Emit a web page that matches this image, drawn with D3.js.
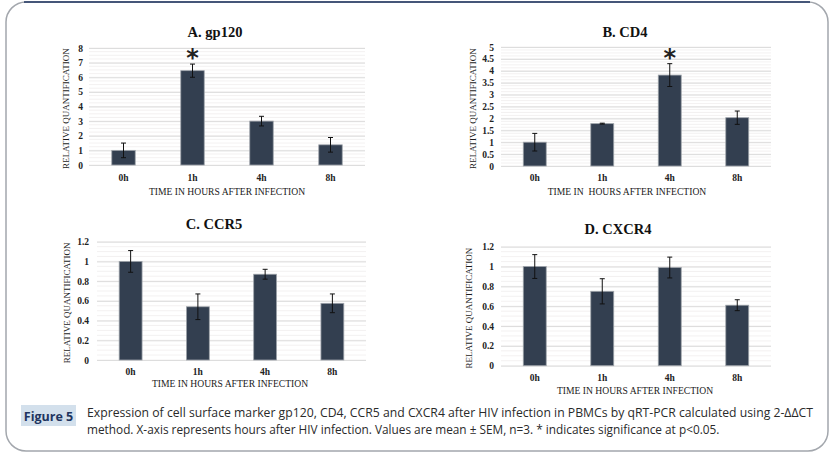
<!DOCTYPE html>
<html>
<head>
<meta charset="utf-8">
<script src="https://cdn.jsdelivr.net/npm/d3@7"></script>
<style>
  body{margin:0;background:#fff;}
  svg{display:block;}
</style>
</head>
<body>
<script>
// values
var hours=["0h","1h","4h","8h"]

var gp120Mean=[1.0,6.45,3.0,1.38]
var gp120Sem=[0.5,0.45,0.33,0.5]
var gp120Star=[false,true,false,false]
var gp120Ticks=[0,1,2,3,4,5,6,7,8]

var cd4Mean=[1.0,1.78,3.82,2.03]
var cd4Sem=[0.37,0.02,0.48,0.28]
var cd4Star=[false,false,true,false]
var cd4Ticks=[0,0.5,1,1.5,2,2.5,3,3.5,4,4.5,5]

var ccr5Mean=[1.0,0.54,0.87,0.575]
var ccr5Sem=[0.11,0.13,0.05,0.095]
var ccr5Star=[false,false,false,false]
var ccr5Ticks=[0,0.2,0.4,0.6,0.8,1,1.2]

var cxcr4Mean=[1.0,0.75,0.99,0.61]
var cxcr4Sem=[0.12,0.127,0.105,0.055]
var cxcr4Star=[false,false,false,false]
var cxcr4Ticks=[0,0.2,0.4,0.6,0.8,1,1.2]

var yTitle="RELATIVE QUANTIFICATION"
var caption1="Expression of cell surface marker gp120, CD4, CCR5 and CXCR4 after HIV infection in PBMCs by qRT-PCR calculated using 2-\u0394\u0394CT"
var caption2="method. X-axis represents hours after HIV infection. Values are mean \u00b1 SEM, n=3. * indicates significance at p<0.05."

var panels=[
  {title:"A. gp120",mean:gp120Mean,sem:gp120Sem,star:gp120Star,ticks:gp120Ticks,xTitle:"TIME IN HOURS AFTER INFECTION",
   x0:89,x1:365,yTop:48,yBot:165,tickX:83,titleX:215,titleY:37,xLabY:181,xTitX:227,xTitY:195,yTitX:66},
  {title:"B. CD4",mean:cd4Mean,sem:cd4Sem,star:cd4Star,ticks:cd4Ticks,xTitle:"TIME IN  HOURS AFTER INFECTION",
   x0:501,x1:771,yTop:47,yBot:166,tickX:494,titleX:625,titleY:37,xLabY:181,xTitX:627,xTitY:195,yTitX:473},
  {title:"C. CCR5",mean:ccr5Mean,sem:ccr5Sem,star:ccr5Star,ticks:ccr5Ticks,xTitle:"TIME IN HOURS AFTER INFECTION",
   x0:97,x1:366,yTop:241.7,yBot:360,tickX:89,titleX:214,titleY:229,xLabY:375,xTitX:230,xTitY:387,yTitX:67},
  {title:"D. CXCR4",mean:cxcr4Mean,sem:cxcr4Sem,star:cxcr4Star,ticks:cxcr4Ticks,xTitle:"TIME IN HOURS AFTER INFECTION",
   x0:501,x1:771,yTop:246.7,yBot:365.7,tickX:494,titleX:618,titleY:234,xLabY:381,xTitX:635,xTitY:394,yTitX:469}
]

var W=833,H=454
var serif="'Liberation Serif','Times New Roman',serif"

var svg=d3.select("body").append("svg")
  .attr("width",W)
  .attr("height",H)

// frame
svg.append("rect")
  .attr("x",6).attr("y",2)
  .attr("width",822).attr("height",449)
  .attr("rx",20).attr("ry",20)
  .attr("fill","none")
  .attr("stroke","#a3a7ad")
  .attr("stroke-width",1.5)
svg.append("line")
  .attr("x1",24).attr("x2",810)
  .attr("y1",2).attr("y2",2)
  .attr("stroke","#1f3560")
  .attr("stroke-width",1.6)

var drawPanel=function(p){
  var g=svg.append("g")
  var ticks=p.ticks
  var ymax=ticks[ticks.length-1]
  var step=ticks[1]-ticks[0]

  var xScale=d3.scaleBand()
    .domain(hours)
    .range([p.x0,p.x1])
    .paddingInner(0.66)
    .paddingOuter(0.33)

  var yScale=d3.scaleLinear()
    .domain([0,ymax])
    .range([p.yBot,p.yTop])

  // minor grid
  var minor=d3.range(0,ymax/step*4+1).map(function(i){return i*step/4})
  g.selectAll(".minor").data(minor).enter().append("line")
    .attr("x1",p.x0).attr("x2",p.x1)
    .attr("y1",function(d){return yScale(d)})
    .attr("y2",function(d){return yScale(d)})
    .attr("stroke","#f0eeee")
    .attr("stroke-width",0.8)

  var yAxis=d3.axisLeft(yScale)
    .tickValues(ticks)
    .tickSize(-(p.x1-p.x0))
    .tickPadding(p.x0-p.tickX)
    .tickFormat(function(d){return d3.format("~g")(d)})
  var ya=g.append("g")
    .attr("transform","translate("+p.x0+",0)")
    .call(yAxis)
  ya.select(".domain").remove()
  ya.selectAll(".tick line").attr("stroke","#d9d9d9").attr("stroke-width",0.9)
  ya.selectAll(".tick text")
    .attr("x",p.tickX-p.x0)
    .style("font-family",serif)
    .style("font-weight","bold")
    .style("font-size","9.5px")
    .attr("fill","#222")

  var xAxis=d3.axisBottom(xScale).tickSize(0).tickPadding(0)
  var xa=g.append("g")
    .attr("transform","translate(0,"+p.xLabY+")")
    .call(xAxis)
  xa.select(".domain").remove()
  xa.selectAll(".tick text")
    .attr("dy",0).attr("y",0)
    .style("font-family",serif)
    .style("font-weight","bold")
    .style("font-size","9.5px")
    .attr("fill","#222")

  var rows=hours.map(function(h,i){return {h:h,m:p.mean[i],s:p.sem[i],star:p.star[i]}})

  g.selectAll(".bar").data(rows).enter().append("rect")
    .attr("x",function(d){return xScale(d.h)})
    .attr("y",function(d){return yScale(d.m)})
    .attr("width",xScale.bandwidth())
    .attr("height",function(d){return yScale(0)-yScale(d.m)})
    .attr("fill","#333f50")
    .attr("stroke","#9ea3aa")
    .attr("stroke-width",0.8)

  var cx=function(d){return xScale(d.h)+xScale.bandwidth()/2}
  g.selectAll(".err").data(rows).enter().append("line")
    .attr("x1",cx).attr("x2",cx)
    .attr("y1",function(d){return yScale(d.m+d.s)})
    .attr("y2",function(d){return yScale(d.m-d.s)})
    .attr("stroke","#111").attr("stroke-width",1)
  ;["top","bot"].forEach(function(k){
    g.selectAll(".cap"+k).data(rows).enter().append("line")
      .attr("x1",function(d){return cx(d)-2.5})
      .attr("x2",function(d){return cx(d)+2.5})
      .attr("y1",function(d){return yScale(k=="top"?d.m+d.s:d.m-d.s)})
      .attr("y2",function(d){return yScale(k=="top"?d.m+d.s:d.m-d.s)})
      .attr("stroke","#111").attr("stroke-width",1)
  })

  g.selectAll(".star").data(rows.filter(function(d){return d.star})).enter().append("text")
    .attr("x",cx)
    .attr("y",function(d){return yScale(d.m+d.s)+2})
    .attr("text-anchor","middle")
    .style("font-family","'DejaVu Sans',sans-serif")
    .style("font-weight","bold")
    .style("font-size","24px")
    .attr("fill","#222")
    .text("*")

  g.append("text")
    .attr("x",p.titleX).attr("y",p.titleY)
    .attr("text-anchor","middle")
    .style("font-family",serif)
    .style("font-weight","bold")
    .style("font-size","14.5px")
    .attr("fill","#111")
    .text(p.title)

  g.append("text")
    .attr("x",p.xTitX).attr("y",p.xTitY)
    .attr("text-anchor","middle")
    .style("font-family",serif)
    .style("font-size","9.6px")
    .style("white-space","pre")
    .attr("fill","#1a1a1a")
    .text(p.xTitle)

  var midY=(p.yTop+p.yBot)/2
  g.append("text")
    .attr("transform","translate("+(p.yTitX+3)+","+(midY+2)+") rotate(-90)")
    .attr("text-anchor","middle")
    .style("font-family",serif)
    .style("font-size","9px")
    .attr("fill","#1a1a1a")
    .text(yTitle)
}

panels.forEach(drawPanel)

// caption
svg.append("rect")
  .attr("x",21).attr("y",405)
  .attr("width",55).attr("height",21)
  .attr("fill","#d3e0ec")
svg.append("text")
  .attr("x",48.5).attr("y",421)
  .attr("text-anchor","middle")
  .style("font-family","'Open Sans',sans-serif")
  .style("font-weight","bold")
  .style("font-size","12.5px")
  .attr("fill","#1f3560")
  .text("Figure 5")

var captionLine=function(txt,y,target){
  var t=svg.append("text")
    .attr("x",0).attr("y",0)
    .style("font-family","'Open Sans',sans-serif")
    .style("font-size","12.5px")
    .attr("fill","#2a2a2a")
    .text(txt)
  var len=t.node().getComputedTextLength()
  var k=len>0?target/len:1
  t.attr("transform","translate(87,"+y+") scale("+k+",1)")
}
captionLine(caption1,417,726)
captionLine(caption2,434,633)
</script>
</body>
</html>
